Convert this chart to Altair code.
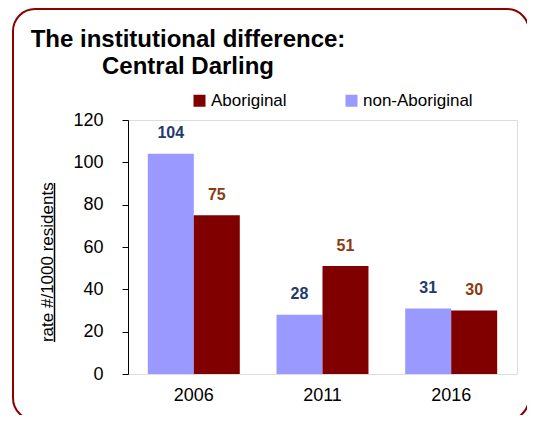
import altair as alt
import pandas as pd

years = ["2006", "2011", "2016"]
aboriginal = [75, 51, 30]
non_aboriginal = [104, 28, 31]
legend_order = ["Aboriginal", "non-Aboriginal"]
bar_order = ["non-Aboriginal", "Aboriginal"]
y_ticks = [0, 20, 40, 60, 80, 100, 120]
title_lines = ["The institutional difference:", "Central Darling"]
y_title = "rate #/1000 residents"

rows = []
for i, yr in enumerate(years):
    rows.append({"year": yr, "group": "non-Aboriginal", "rate": non_aboriginal[i]})
    rows.append({"year": yr, "group": "Aboriginal", "rate": aboriginal[i]})
df = pd.DataFrame(rows)

FONT = "Liberation Sans"
MAROON = "#800000"
LAVENDER = "#9999FF"
BORDER = "#8B0000"

x = alt.X(
    "year:N",
    sort=years,
    scale=alt.Scale(paddingInner=0.2854, paddingOuter=0.154),
    axis=alt.Axis(
        title=None, labelAngle=0, domain=False, ticks=False,
        labelFontSize=18, labelPadding=12, labelColor="black", labelFont=FONT,
    ),
)
xoff = alt.XOffset("group:N", sort=bar_order, scale=alt.Scale(paddingInner=0, paddingOuter=0))
y = alt.Y(
    "rate:Q",
    scale=alt.Scale(domain=[0, 120], nice=False),
    axis=alt.Axis(
        values=y_ticks, title=y_title, grid=False,
        tickSize=6, tickColor="black", domainColor="black",
        labelFontSize=18, labelFont=FONT, labelColor="black", labelPadding=19,
        titleFont=FONT, titleFontSize=17, titleFontWeight="normal", titleColor="black",
        titleAngle=270, titleAlign="center", titleBaseline="alphabetic",
        titleX=-76, titleY=141.7,
    ),
)

bars = alt.Chart(df).mark_bar().encode(
    x=x,
    xOffset=xoff,
    y=y,
    color=alt.Color(
        "group:N",
        scale=alt.Scale(domain=legend_order, range=[MAROON, LAVENDER]),
        legend=alt.Legend(
            orient="none", legendX=63, legendY=-28, direction="horizontal",
            title=None, symbolType="square", symbolSize=144, symbolStrokeWidth=0,
            labelFontSize=17, labelFont=FONT, labelColor="black",
            columnPadding=56, labelOffset=3, padding=0,
        ),
    ),
)

labels = alt.Chart(df).mark_text(
    font=FONT, fontSize=16, fontWeight="bold", baseline="alphabetic", dy=-15.5
).encode(
    x=x,
    xOffset=xoff,
    y=y,
    text=alt.Text("rate:Q", format="d"),
    color=alt.condition(
        alt.datum.group == "Aboriginal", alt.value("#8B3A10"), alt.value("#1F3A6E")
    ),
)

one = pd.DataFrame({"k": [0]})
border = alt.Chart(one).mark_rect(
    fill="white", fillOpacity=0, stroke=BORDER, strokeWidth=2, cornerRadius=22
).encode(
    x=alt.value(-115), x2=alt.value(401), y=alt.value(-111), y2=alt.value(300)
)
underline = alt.Chart(one).mark_rule(color="black", strokeWidth=1.5).encode(
    x=alt.value(-73.5), y=alt.value(63), y2=alt.value(222)
)
title = alt.Chart(one).mark_text(
    text=title_lines, font=FONT, fontSize=24, fontWeight="bold", color="black",
    align="center", baseline="alphabetic", lineHeight=27,
).encode(x=alt.value(60), y=alt.value(-73.3))

chart = alt.layer(border, underline, title, bars, labels).properties(
    width=389,
    height=254,
    autosize=alt.AutoSizeParams(type="none"),
    padding={"left": 120, "top": 112, "right": 10, "bottom": 41},
).configure_view(stroke=None).configure(background="white")

chart.save("out.html", embed_options={"renderer": "svg", "actions": False})
